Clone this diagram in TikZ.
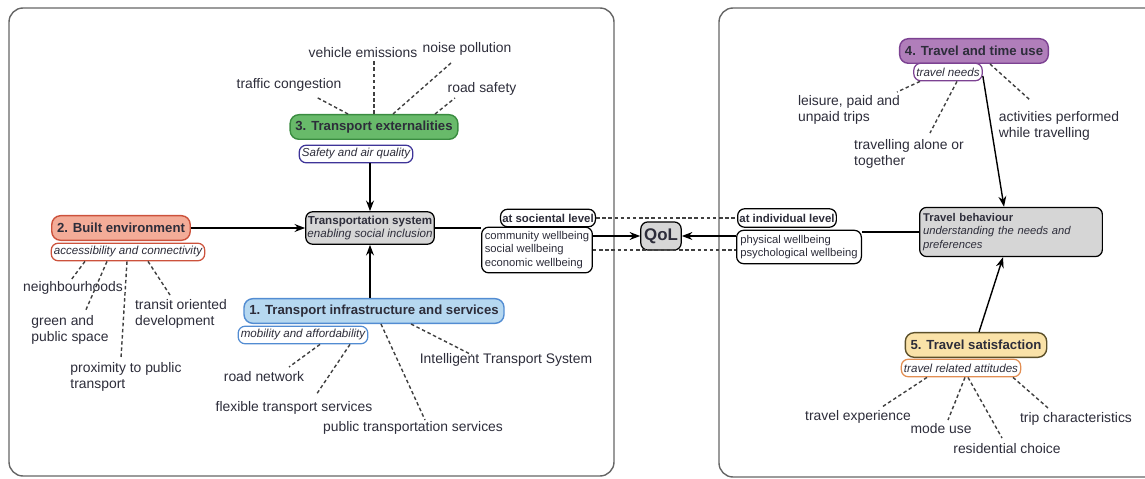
\documentclass[tikz,border=0pt]{standalone}
\usepackage{fontspec}
\setmainfont{Liberation Sans}
\usetikzlibrary{arrows.meta,calc}

\definecolor{txt}{RGB}{45,45,58}
\definecolor{extfill}{RGB}{104,186,106}
\definecolor{extdraw}{RGB}{58,140,64}
\definecolor{builtfill}{RGB}{243,172,152}
\definecolor{builtdraw}{RGB}{204,82,60}
\definecolor{infrafill}{RGB}{182,216,240}
\definecolor{infradraw}{RGB}{82,140,210}
\definecolor{timefill}{RGB}{176,126,186}
\definecolor{timedraw}{RGB}{124,66,146}
\definecolor{satfill}{RGB}{250,226,168}
\definecolor{satdraw}{RGB}{92,80,42}
\definecolor{safedraw}{RGB}{62,52,152}
\definecolor{attdraw}{RGB}{226,142,82}
\definecolor{boxgray}{RGB}{214,214,214}

\begin{document}
\begin{tikzpicture}[x=0.02cm,y=-0.02cm]
\tikzstyle{every node}=[inner sep=1pt, text=txt]
\tikzstyle{title}=[draw, rounded corners=5pt, line width=0.8pt, font=\fontsize{7.5}{9}\selectfont\bfseries, minimum height=14pt, inner xsep=3pt]
\tikzstyle{sub}=[draw, fill=white, rounded corners=4pt, line width=0.7pt, font=\fontsize{6.6}{8}\selectfont\itshape, minimum height=10pt, inner xsep=1.5pt]
\tikzstyle{lbl}=[font=\fontsize{7.9}{9.3}\selectfont, align=left]
\tikzstyle{box}=[draw, rounded corners=4pt, line width=0.7pt, font=\fontsize{6.4}{7.6}\selectfont, align=left]
\tikzstyle{arr}=[-{Stealth[length=6pt,width=4.5pt]}, line width=0.8pt]
\tikzstyle{dotline}=[dash pattern=on 2pt off 1.5pt, line width=0.8pt, draw=black!75]
\tikzstyle{panel}=[draw=black!60, line width=0.8pt, rounded corners=8pt]

\useasboundingbox (0,0) rectangle (1145,479);
% panels
\draw[panel] (9,8) rectangle (614,476);
\begin{scope}
\clip (0,0) rectangle (1145,479);
\draw[panel] (719,8) rectangle (1175,477);
\end{scope}

% left panel
\draw (374,127) node (ext) [title,fill=extfill,draw=extdraw] {3. Transport externalities};
\draw (356,154) node (safety) [sub,draw=safedraw] {Safety and air quality};
\draw (121,228) node (built) [title,fill=builtfill,draw=builtdraw] {2. Built environment};
\draw (128,252) node (access) [sub,draw=builtdraw] {accessibility and connectivity};
\draw (374,311) node (infra) [title,fill=infrafill,draw=infradraw] {1. Transport infrastructure and services};
\draw (303,335) node (mobility) [sub,draw=infradraw] {mobility and affordability};
\draw (370,228) node (ts) [box,fill=boxgray,align=center,minimum width=73pt,minimum height=18.5pt,font=\fontsize{6.6}{7.8}\selectfont] {\textbf{Transportation system}\\\textit{enabling social inclusion}};

\draw (289,85) node (cong) [lbl] {traffic congestion};
\draw (363,53) node (emis) [lbl] {vehicle emissions};
\draw (467,49) node (noise) [lbl] {noise pollution};
\draw (482,89) node (rsafe) [lbl] {road safety};
\draw (73,288) node (neigh) [lbl] {neighbourhoods};
\draw (70,330) node (green) [lbl] {green and\\public space};
\draw (181,314) node (transit) [lbl] {transit oriented\\development};
\draw (126,377) node (prox) [lbl] {proximity to public\\transport};
\draw (264,377) node (roadnet) [lbl] {road network};
\draw (294,408) node (flex) [lbl] {flexible transport services};
\draw (413,428) node (pubtr) [lbl] {public transportation services};
\draw (506,360) node (its) [lbl] {Intelligent Transport System};

% middle
\draw (537,250) node (wb) [box,fill=white,minimum width=63pt,minimum height=26pt] {community wellbeing\\social wellbeing\\economic wellbeing};
\draw (548,218) node (soc) [box,fill=white,font=\fontsize{6.5}{7.6}\selectfont\bfseries,minimum height=10pt] {at sociental level};
\draw (661,236) node (qol) [box,fill=boxgray,font=\fontsize{9.6}{11}\selectfont\bfseries,minimum width=23pt,minimum height=16pt] {QoL};
\draw (799,247) node (phys) [box,fill=white,minimum width=71pt,minimum height=19pt] {physical wellbeing\\psychological wellbeing};
\draw (787,218) node (ind) [box,fill=white,font=\fontsize{6.5}{7.6}\selectfont\bfseries,minimum height=10.5pt] {at individual level};

% right panel
\draw (974,51) node (time) [title,fill=timefill,draw=timedraw] {4. Travel and time use};
\draw (948,72) node (needs) [sub,draw=timedraw] {travel needs};
\draw (1011,232) node (tb) [box,fill=boxgray,text width=100pt,minimum height=28pt,inner sep=2pt] {\textbf{Travel behaviour}\\\textit{understanding the needs and}\\\textit{preferences}};
\draw (976,345) node (sat) [title,fill=satfill,draw=satdraw] {5. Travel satisfaction};
\draw (961,368) node (att) [sub,draw=attdraw] {travel related attitudes};

\draw (849,110) node (leisure) [lbl] {leisure, paid and\\unpaid trips};
\draw (909,154) node (alone) [lbl] {travelling alone or\\together};
\draw (1059,126) node (activ) [lbl] {activities performed\\while travelling};
\draw (858,417) node (exper) [lbl] {travel experience};
\draw (941,429) node (mode) [lbl] {mode use};
\draw (1007,449) node (resid) [lbl] {residential choice};
\draw (1076,419) node (trip) [lbl] {trip characteristics};

% solid connectors
\draw[arr] (safety.south -| ts.north) -- (ts.north);
\draw[arr] (built.east) -- (built.east -| ts.west);
\draw[arr] (ts.south |- infra.north) -- (ts.south);
\draw[line width=0.8pt] (ts.east) -- (ts.east -| wb.west);
\draw[arr] (qol.west -| wb.east) -- (qol.west);
\draw[arr] (qol.east -| phys.west) -- (qol.east);
\draw[line width=0.8pt] (tb.west) -- (tb.west -| phys.east);
\draw[arr] ($(needs.east)+(0,4)$) -- ($(tb.north)+(-7,0)$);
\draw[arr] ($(sat.north)+(3,0)$) -- ($(tb.south)+(-8,0)$);

% dashed connectors
\draw[dotline] (soc.east) -- (ind.west);
\draw[dotline] (wb.east) -- (wb.east -| phys.west);
\draw[dotline] ($(ext.north)+(-26,0)$) -- ($(cong)+(27,12)$);
\draw[dotline] (ext.north) -- (ext.north |- emis.south);
\draw[dotline] ($(ext.north)+(19,0)$) -- ($(noise)+(-16,14)$);
\draw[dotline] ($(ext.north)+(61,0)$) -- ($(rsafe)+(-27,9)$);
\draw[dotline] ($(access.south)+(-43,0)$) -- ($(neigh)+(-2,-8)$);
\draw[dotline] ($(access.south)+(-21,0)$) -- ($(green)+(15,-18)$);
\draw[dotline] ($(access.south)+(-1,0)$) -- ($(prox)+(-5,-19)$);
\draw[dotline] ($(access.south)+(20,0)$) -- ($(transit)+(-11,-19)$);
\draw[dotline] ($(mobility.south)+(17,0)$) -- ($(roadnet)+(25,-10)$);
\draw[dotline] ($(mobility.south)+(47,0)$) -- ($(flex)+(22,-13)$);
\draw[dotline] ($(infra.south)+(7,0)$) -- ($(pubtr)+(12,-8)$);
\draw[dotline] ($(infra.south)+(37,0)$) -- ($(its)+(-34,-5)$);
\draw[dotline] ($(needs.south)+(-28,0)$) -- ($(leisure)+(48,-18)$);
\draw[dotline] ($(needs.south)+(9,0)$) -- ($(alone)+(21,-21)$);
\draw[dotline] ($(time.south)+(16,0)$) -- ($(activ)+(-29,-26)$);
\draw[dotline] ($(att.south)+(-34,0)$) -- ($(exper)+(24,-10)$);
\draw[dotline] ($(att.south)+(4,0)$) -- ($(mode)+(7,-9)$);
\draw[dotline] ($(att.south)+(7,0)$) -- ($(resid)+(-5,-11)$);
\draw[dotline] ($(att.south)+(52,0)$) -- ($(trip)+(-28,-11)$);
\end{tikzpicture}
\end{document}
